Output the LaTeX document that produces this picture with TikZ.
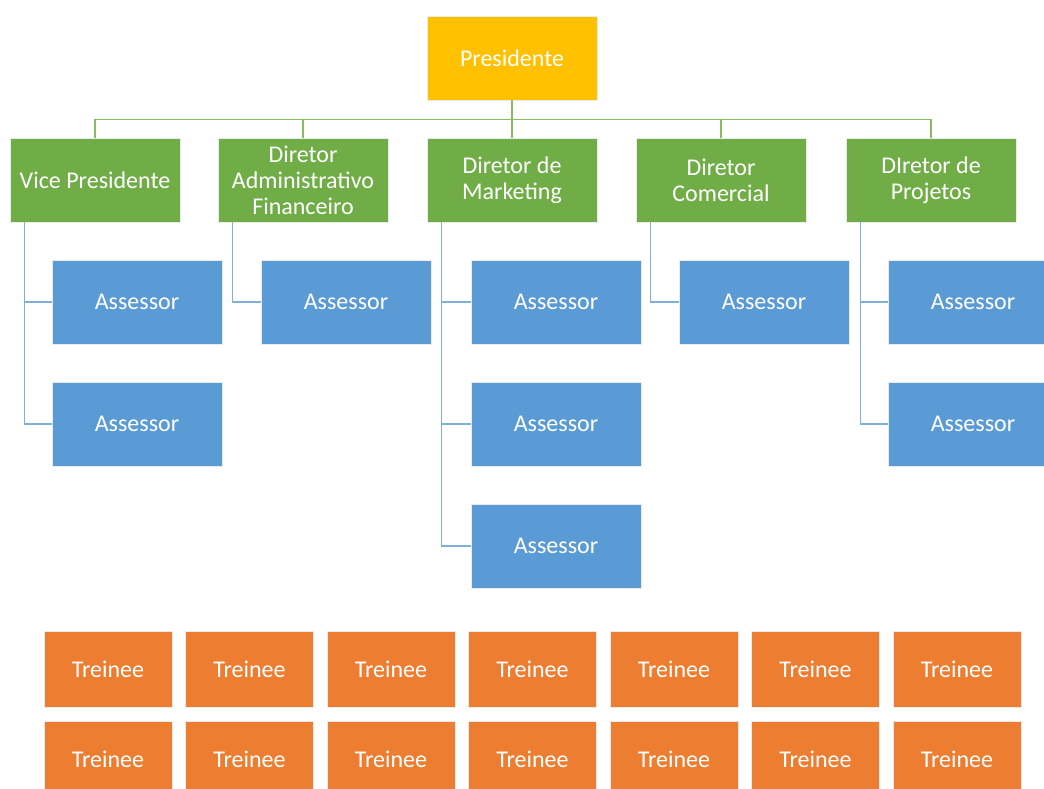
\documentclass[tikz,border=0pt]{standalone}
\usepackage{fontspec}
\setmainfont{Carlito}
\usepackage{xcolor}
\usetikzlibrary{positioning}
\definecolor{presfill}{HTML}{FFC000}
\definecolor{dirfill}{HTML}{70AD47}
\definecolor{assfill}{HTML}{5B9BD5}
\definecolor{trnfill}{HTML}{ED7D31}
\definecolor{glinec}{HTML}{86BC62}
\definecolor{blinec}{HTML}{7DB0DF}

\begin{document}
\begin{tikzpicture}[
    x=1pt, y=-1pt,
    font=\fontsize{24}{26}\selectfont,
    box/.style={draw=white!92!black, line width=0.8pt, align=center, text=white,
      inner sep=2pt},
    pres/.style={box, fill=presfill, minimum width=170pt, minimum height=84pt},
    dir/.style={box, fill=dirfill, minimum width=170pt, minimum height=84pt},
    assessor/.style={box, fill=assfill, minimum width=170pt, minimum height=84pt},
    trainee/.style={box, fill=trnfill, minimum width=128pt, minimum height=76pt},
    gline/.style={draw=glinec, line width=1.6pt},
    bline/.style={draw=blinec, line width=1.6pt}
  ]
    \clip (0,0) rectangle (1044,789);

    \node[pres] (presidente) at (512,58) {Presidente};

    \node[dir] (vice) at (95,180) {Vice Presidente};
    \node[dir] (admin) at (303,180) {Diretor\\ Administrativo\\ Financeiro};
    \node[dir] (marketing) at (512,180) {Diretor de\\ Marketing};
    \node[dir] (comercial) at (721,180) {Diretor\\ Comercial};
    \node[dir] (projetos) at (931,180) {DIretor de\\ Projetos};

    \node[assessor] (vice1) at (137,302) {Assessor};
    \node[assessor] (vice2) at (137,424) {Assessor};
    \node[assessor] (admin1) at (346,302) {Assessor};
    \node[assessor] (mkt1) at (556,302) {Assessor};
    \node[assessor] (mkt2) at (556,424) {Assessor};
    \node[assessor] (mkt3) at (556,546) {Assessor};
    \node[assessor] (com1) at (764,302) {Assessor};
    \node[assessor] (proj1) at (973,302) {Assessor};
    \node[assessor] (proj2) at (973,424) {Assessor};

    \node[trainee] (tra1) at (108,669) {Treinee};
    \node[trainee] (tra2) at (249.5,669) {Treinee};
    \node[trainee] (tra3) at (391,669) {Treinee};
    \node[trainee] (tra4) at (532.5,669) {Treinee};
    \node[trainee] (tra5) at (674,669) {Treinee};
    \node[trainee] (tra6) at (815.5,669) {Treinee};
    \node[trainee] (tra7) at (957,669) {Treinee};
    \node[trainee] (trb1) at (108,759) {Treinee};
    \node[trainee] (trb2) at (249.5,759) {Treinee};
    \node[trainee] (trb3) at (391,759) {Treinee};
    \node[trainee] (trb4) at (532.5,759) {Treinee};
    \node[trainee] (trb5) at (674,759) {Treinee};
    \node[trainee] (trb6) at (815.5,759) {Treinee};
    \node[trainee] (trb7) at (957,759) {Treinee};

    \draw[gline] (presidente.south) -- ++(0,19) -| (vice.north);
    \draw[gline] (presidente.south) -- ++(0,19) -| (admin.north);
    \draw[gline] (presidente.south) -- (marketing.north);
    \draw[gline] (presidente.south) -- ++(0,19) -| (comercial.north);
    \draw[gline] (presidente.south) -- ++(0,19) -| (projetos.north);

    \draw[bline] ([xshift=15pt]vice.south west) |- (vice1.west);
    \draw[bline] ([xshift=15pt]vice.south west) |- (vice2.west);
    \draw[bline] ([xshift=15pt]admin.south west) |- (admin1.west);
    \draw[bline] ([xshift=15pt]marketing.south west) |- (mkt1.west);
    \draw[bline] ([xshift=15pt]marketing.south west) |- (mkt2.west);
    \draw[bline] ([xshift=15pt]marketing.south west) |- (mkt3.west);
    \draw[bline] ([xshift=15pt]comercial.south west) |- (com1.west);
    \draw[bline] ([xshift=15pt]projetos.south west) |- (proj1.west);
    \draw[bline] ([xshift=15pt]projetos.south west) |- (proj2.west);
  \end{tikzpicture}
\end{document}
